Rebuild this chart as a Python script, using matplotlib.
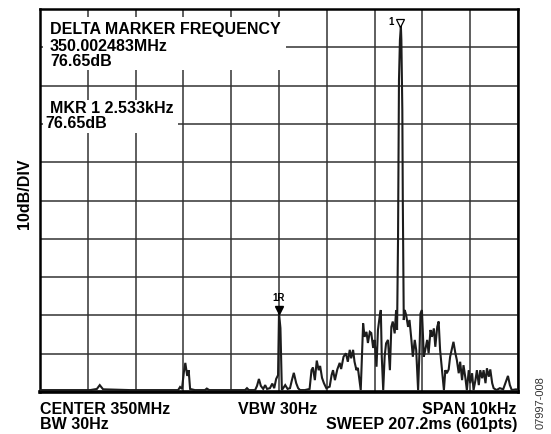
import matplotlib
matplotlib.use("Agg")
import matplotlib.pyplot as plt
from matplotlib.patches import Rectangle

# ---------------- data ----------------
# frequency offset from centre (kHz) and displayed level (dB above screen bottom)
freq_khz = [-5.00, -4.58, -3.95, -3.81, -3.75, -3.68, -3.12, -2.49, -2.11, -2.07,
            -2.03, -1.99, -1.96, -1.92, -1.89, -1.86, -1.76, -1.55, -1.51, -1.46,
            -1.03, -0.71, -0.67, -0.63, -0.50, -0.46, -0.42, -0.38, -0.33, -0.29,
            -0.25, -0.19, -0.14, -0.10, -0.06, -0.02, 0.00, 0.03, 0.06, 0.13,
            0.18, 0.23, 0.27, 0.31, 0.36, 0.40, 0.44, 0.54, 0.64, 0.68,
            0.71, 0.75, 0.79, 0.83, 0.86, 0.90, 0.94, 0.99, 1.06, 1.10,
            1.13, 1.17, 1.22, 1.27, 1.30, 1.35, 1.40, 1.44, 1.48, 1.51,
            1.55, 1.58, 1.62, 1.65, 1.71, 1.76, 1.79, 1.83, 1.86, 1.90,
            1.93, 1.97, 2.00, 2.04, 2.07, 2.11, 2.13, 2.15, 2.18, 2.21,
            2.24, 2.28, 2.32, 2.35, 2.38, 2.42, 2.45, 2.47, 2.49, 2.51,
            2.53, 2.55, 2.56, 2.58, 2.59, 2.61, 2.63, 2.66, 2.70, 2.73,
            2.77, 2.80, 2.84, 2.87, 2.91, 2.94, 2.96, 2.99, 3.03, 3.06,
            3.10, 3.13, 3.17, 3.20, 3.24, 3.27, 3.31, 3.34, 3.37, 3.41,
            3.45, 3.48, 3.51, 3.55, 3.58, 3.62, 3.65, 3.69, 3.72, 3.76,
            3.79, 3.83, 3.86, 3.90, 3.93, 3.97, 4.00, 4.04, 4.07, 4.11,
            4.14, 4.18, 4.21, 4.25, 4.28, 4.32, 4.35, 4.39, 4.42, 4.46,
            4.49, 4.55, 4.62, 4.69, 4.76, 4.79, 4.83, 4.87, 4.96, 5.00]
level_db = [0.5, 0.5, 0.5, 0.8, 1.8, 0.7, 0.5, 0.5, 0.5, 1.3,
            0.8, 5.2, 7.6, 4.2, 5.7, 0.8, 0.5, 0.5, 0.9, 0.5,
            0.5, 0.5, 1.0, 0.5, 0.5, 1.6, 3.4, 1.6, 0.8, 1.8,
            0.8, 1.0, 2.2, 1.0, 3.4, 4.4, 20.6, 16.7, 0.5, 1.8,
            0.8, 1.0, 3.1, 5.0, 2.3, 1.0, 0.5, 0.5, 0.8, 5.7,
            6.4, 3.1, 8.2, 5.7, 6.8, 3.7, 2.3, 1.0, 1.4, 4.4,
            5.7, 3.1, 5.9, 7.6, 6.0, 9.2, 10.1, 7.9, 11.0, 8.8,
            11.0, 7.9, 5.7, 6.3, 0.5, 17.9, 14.4, 15.7, 12.8, 15.7,
            15.4, 11.5, 13.6, 6.6, 16.2, 20.1, 21.4, 9.2, 0.5, 9.2,
            12.7, 13.6, 5.7, 17.0, 18.4, 15.3, 21.4, 16.2, 39.7, 81.5,
            91.9, 95.6, 91.9, 73.6, 50.1, 18.8, 21.4, 20.1, 17.0, 18.8,
            13.6, 9.2, 13.6, 11.0, 0.5, 11.0, 20.5, 21.4, 9.2, 11.0,
            13.6, 10.1, 16.2, 14.4, 16.6, 11.8, 17.0, 18.4, 11.0, 5.7,
            0.5, 5.7, 4.9, 5.9, 9.2, 11.4, 13.1, 10.1, 8.4, 4.9,
            7.9, 3.1, 7.0, 3.6, 0.5, 5.7, 2.3, 4.9, 0.5, 3.1,
            5.7, 1.8, 5.7, 3.6, 5.7, 2.3, 6.2, 4.0, 5.9, 2.3,
            1.0, 0.5, 1.0, 0.7, 3.1, 4.2, 1.8, 0.5, 0.7, 0.5]

marker_freq = [0.00, 2.53]          # 1R (reference) and 1 (delta) markers
marker_level = [21.3, 96.3]
marker_names = ["1R", "1"]

info_box1 = ["DELTA MARKER FREQUENCY", "350.002483MHz", "76.65dB"]
info_box2 = ["MKR 1 2.533kHz", "76.65dB"]
bottom_left = ["CENTER 350MHz", "BW 30Hz"]
bottom_mid = "VBW 30Hz"
bottom_right = ["SPAN 10kHz", "SWEEP 207.2ms (601pts)"]
y_label = "10dB/DIV"
fig_code = "07997-008"

# ---------------- figure ----------------
W, H = 551, 434
plt.rcParams['font.family'] = ['Liberation Sans', 'DejaVu Sans']
fig = plt.figure(figsize=(W / 100, H / 100), dpi=100)
L, R, T, B = 40, 518, 9, 392
ax = fig.add_axes([L / W, 1 - B / H, (R - L) / W, (B - T) / H])
ax.set_xlim(-5, 5)
ax.set_ylim(0, 100)
ax.set_xticks(range(-5, 6))
ax.set_yticks(range(0, 101, 10))
ax.tick_params(length=0, labelbottom=False, labelleft=False)
ax.set_axisbelow(True)
ax.grid(True, color='#333333', linewidth=1.1)
for s in ax.spines.values():
    s.set_linewidth(1.8)
    s.set_color('black')
ax.spines['bottom'].set_linewidth(2.6)

ax.plot(freq_khz, level_db, color='#1c1c1c', linewidth=1.5, zorder=3,
        solid_joinstyle='miter', clip_on=True)

# white boxes that hide the grid under the readouts
def px2data(px, py):
    return (px - 279) / 47.8, (B - py) / 3.83

x0, y1 = px2data(43, 17)
x1, y0 = px2data(286, 70)
ax.add_patch(Rectangle((x0, y0), x1 - x0, y1 - y0, facecolor='white',
                       edgecolor='none', zorder=1.5))
x0, y1 = px2data(43, 100)
x1, y0 = px2data(178, 133)
ax.add_patch(Rectangle((x0, y0), x1 - x0, y1 - y0, facecolor='white',
                       edgecolor='none', zorder=1.5))

# markers
ax.plot(marker_freq[0], marker_level[0], marker='v', color='black',
        markersize=6, zorder=4, clip_on=False)
ax.text(marker_freq[0], marker_level[0] + 3.2, marker_names[0], ha='center',
        va='center', fontsize=7, fontweight='bold', zorder=4)
ax.plot(marker_freq[1], marker_level[1], marker='v', markerfacecolor='white',
        markeredgecolor='black', markeredgewidth=0.9, markersize=6,
        zorder=4, clip_on=False)
ax.text(marker_freq[1] - 0.18, marker_level[1] + 0.2, marker_names[1],
        ha='center', va='center', fontsize=7, fontweight='bold', zorder=4)

def ftext(px, py, s, **kw):
    fig.text(px / W, 1 - py / H, s, **kw)

fs = 11.5
ftext(50, 34.3, info_box1[0], fontsize=fs, fontweight='bold', va='baseline')
ftext(50, 50.7, info_box1[1], fontsize=fs, fontweight='bold', va='baseline')
ftext(50, 65.7, info_box1[2], fontsize=fs, fontweight='bold', va='baseline')
ftext(50, 113, info_box2[0], fontsize=fs, fontweight='bold', va='baseline')
ftext(45, 128, info_box2[1], fontsize=fs, fontweight='bold', va='baseline')

ftext(40, 414, bottom_left[0], fontsize=fs, fontweight='bold', va='baseline')
ftext(40, 429, bottom_left[1], fontsize=fs, fontweight='bold', va='baseline')
ftext(278, 414, bottom_mid, fontsize=fs, fontweight='bold', va='baseline', ha='center')
ftext(516, 414, bottom_right[0], fontsize=fs, fontweight='bold', va='baseline', ha='right')
ftext(517, 429, bottom_right[1], fontsize=fs, fontweight='bold', va='baseline', ha='right')

ftext(25, 194, y_label, fontsize=fs, fontweight='bold', rotation=90,
      ha='center', va='center')
ftext(540.5, 403, fig_code, fontsize=8, color='#333333', rotation=90,
      ha='center', va='center')

fig.savefig("out.png", dpi=100)
